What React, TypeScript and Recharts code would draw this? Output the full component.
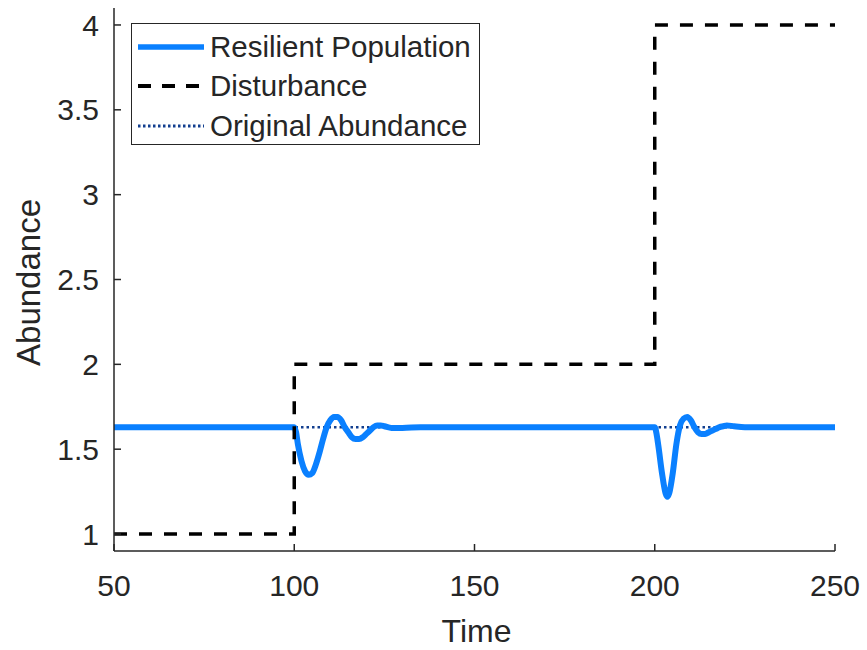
import React from 'react';
import { LineChart, Line, XAxis, YAxis, Legend } from 'recharts';

// Resilient population trajectory (time, abundance)
const resilientTime = [
  50, 100, 100.5, 101, 102, 103, 104, 105, 106, 107, 108, 109, 110, 111, 112, 113, 114, 115, 116, 117, 118, 119, 120,
  121, 122, 123, 124, 125, 127, 130, 135, 200, 200.5, 201, 202, 203, 203.5, 204, 205, 206, 207, 208, 209, 210, 211,
  212, 213, 214, 215, 216, 217, 218, 219, 220, 222, 225, 250,
];
const resilientValue = [
  1.63, 1.63, 1.6, 1.53, 1.43, 1.37, 1.35, 1.36, 1.41, 1.48, 1.56, 1.63, 1.67, 1.69, 1.69, 1.67, 1.63, 1.6, 1.57, 1.56,
  1.56, 1.57, 1.59, 1.61, 1.63, 1.64, 1.64, 1.635, 1.625, 1.625, 1.63, 1.63, 1.59, 1.52, 1.36, 1.24, 1.22, 1.24, 1.36,
  1.53, 1.64, 1.68, 1.69, 1.67, 1.63, 1.6, 1.59, 1.59, 1.6, 1.61, 1.62, 1.63, 1.635, 1.64, 1.635, 1.63, 1.63,
];

// Disturbance step levels
const disturbanceTime = [50, 100, 200, 250];
const disturbanceValue = [1, 2, 4, 4];

// Original abundance reference
const originalTime = [50, 250];
const originalValue = [1.63, 1.63];

const xTicks = [50, 100, 150, 200, 250];
const yTicks = [1, 1.5, 2, 2.5, 3, 3.5, 4];

const seriesNames = ['Resilient Population', 'Disturbance', 'Original Abundance'];

const resilientData = resilientTime.map((t, i) => ({ t, v: resilientValue[i] }));
const disturbanceData = disturbanceTime.map((t, i) => ({ t, v: disturbanceValue[i] }));
const originalData = originalTime.map((t, i) => ({ t, v: originalValue[i] }));

const FONT = '"Liberation Sans", Arial, Helvetica, sans-serif';
const TXT = '#262626';
const BLUE = '#0a80ff';
const NAVY = '#123f8f';

const LegendBox = () => {
  const samples = [
    <line key="a" x1={6} x2={72} y1={20} y2={20} stroke={BLUE} strokeWidth={5.5} />,
    <line key="b" x1={6} x2={72} y1={20} y2={20} stroke="#000" strokeWidth={4} strokeDasharray="13 11" />,
    <line key="c" x1={6} x2={72} y1={20} y2={20} stroke={NAVY} strokeWidth={3} strokeDasharray="2.5 2.5" />,
  ];
  return (
    <div
      style={{
        width: 349,
        height: 122,
        boxSizing: 'border-box',
        border: '1.5px solid #262626',
        background: '#fff',
        paddingTop: 3,
        fontFamily: FONT,
        fontSize: 29.5,
        color: TXT,
      }}
    >
      {seriesNames.map((name, i) => (
        <div key={name} style={{ display: 'flex', alignItems: 'center', height: 39.5 }}>
          <svg width={78} height={40} style={{ flex: 'none' }}>
            {samples[i]}
          </svg>
          <span style={{ whiteSpace: 'nowrap', lineHeight: '40px' }}>{name}</span>
        </div>
      ))}
    </div>
  );
};

export default function App() {
  return (
    <div style={{ position: 'absolute', left: 0, top: 0, width: 867, height: 650, background: '#fff' }}>
      <LineChart width={867} height={650} margin={{ top: 8, right: 32, bottom: 0, left: 0 }}>
        <XAxis
          type="number"
          dataKey="t"
          domain={[50, 250]}
          ticks={xTicks}
          allowDataOverflow
          height={99}
          stroke={TXT}
          strokeWidth={1.5}
          tickSize={-7}
          tickMargin={31}
          tick={{ fill: TXT, fontSize: 30, fontFamily: FONT }}
          label={({ viewBox }: any) => (
            <text
              x={viewBox.x + viewBox.width / 2 + 2}
              y={viewBox.y + 80}
              textAnchor="middle"
              dominantBaseline="central"
              fill={TXT}
              fontSize={32}
              fontFamily={FONT}
            >
              Time
            </text>
          )}
        />
        <YAxis
          type="number"
          domain={[0.9, 4.1]}
          ticks={yTicks}
          allowDataOverflow
          width={114}
          stroke={TXT}
          strokeWidth={1.5}
          tickSize={-7}
          tickMargin={22}
          tick={{ fill: TXT, fontSize: 30, fontFamily: FONT }}
          label={({ viewBox }: any) => {
            const cx = viewBox.x + 28;
            const cy = viewBox.y + viewBox.height / 2 + 3;
            return (
              <text
                x={cx}
                y={cy}
                transform={`rotate(-90 ${cx} ${cy})`}
                textAnchor="middle"
                dominantBaseline="central"
                fill={TXT}
                fontSize={33}
                fontFamily={FONT}
              >
                Abundance
              </text>
            );
          }}
        />
        <Legend
          layout="horizontal"
          verticalAlign="middle"
          align="center"
          wrapperStyle={{ left: 131, top: 23, width: 349, height: 122 }}
          content={() => <LegendBox />}
        />
        <Line
          data={originalData}
          dataKey="v"
          type="linear"
          stroke={NAVY}
          strokeWidth={2.5}
          strokeDasharray="2.5 3"
          dot={false}
          activeDot={false}
          isAnimationActive={false}
          name={seriesNames[2]}
        />
        <Line
          data={resilientData}
          dataKey="v"
          type="monotone"
          stroke={BLUE}
          strokeWidth={6}
          dot={false}
          activeDot={false}
          isAnimationActive={false}
          name={seriesNames[0]}
        />
        <Line
          data={disturbanceData}
          dataKey="v"
          type="stepAfter"
          stroke="#000"
          strokeWidth={3.5}
          strokeDasharray="13 12"
          dot={false}
          activeDot={false}
          isAnimationActive={false}
          name={seriesNames[1]}
        />
      </LineChart>
    </div>
  );
}
